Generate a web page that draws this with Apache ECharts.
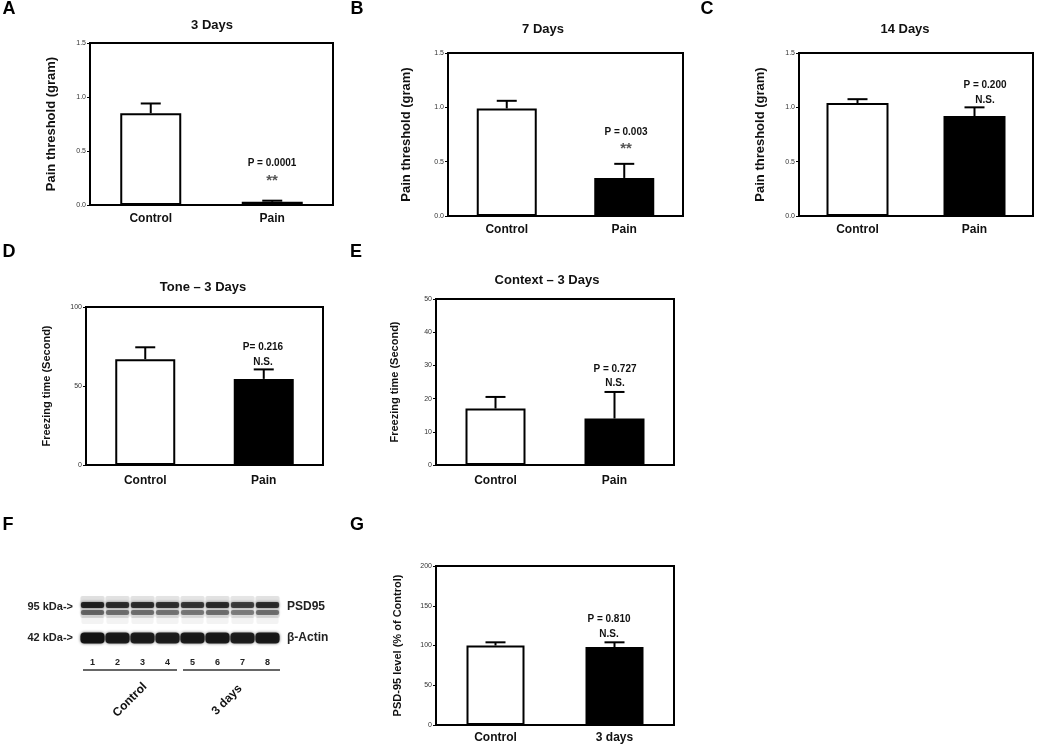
<!DOCTYPE html>
<html><head><meta charset="utf-8">
<script src="https://cdn.jsdelivr.net/npm/echarts@6/dist/echarts.min.js"></script>
<style>html,body{margin:0;padding:0;background:#fff}#c{width:1050px;height:748px}</style>
</head><body><div id="c"></div>
<script>
// ---------- data ----------
const catsPain = ['Control', 'Pain'];
const catsPsd = ['Control', '3 days'];
const thr3Mean = [0.85, 0.03];
const thr3Err = [0.09, 0.01];
const thr7Mean = [0.99, 0.35];
const thr7Err = [0.07, 0.13];
const thr14Mean = [1.04, 0.92];
const thr14Err = [0.035, 0.08];
const toneMean = [67, 54.5];
const toneErr = [7.5, 6];
const contextMean = [17, 14];
const contextErr = [3.5, 8];
const psdMean = [100, 98];
const psdErr = [4, 6];
const pTexts = ['P = 0.0001', 'P = 0.003', 'P = 0.200', 'P= 0.216', 'P = 0.727', 'P = 0.810'];
const sigTexts = ['**', '**', 'N.S.', 'N.S.', 'N.S.', 'N.S.'];
const blotLanes = ['1', '2', '3', '4', '5', '6', '7', '8'];
const blotBands = ['42 kDa->', '95 kDa->'];
const blotNames = ['\u03b2-Actin', 'PSD95'];
const psd95Intensity = [0.95, 0.88, 0.88, 0.84, 0.82, 0.88, 0.78, 0.88];
const actinIntensity = [1.0, 0.94, 0.93, 0.92, 0.94, 0.95, 0.92, 0.95];

const FONT = 'Arial, "Liberation Sans", sans-serif';

const panels = [
  {cats: catsPain, mean: thr3Mean, err: thr3Err, min: 0, max: 1.5, interval: 0.5, dec: 1,
   grid: {left: 90, top: 43, width: 243, height: 162}, yname: 'Pain threshold (gram)', ynameSize: 13, ygap: 32, bw: 61, xmargin: 8},
  {cats: catsPain, mean: thr7Mean, err: thr7Err, min: 0, max: 1.5, interval: 0.5, dec: 1,
   grid: {left: 448, top: 53, width: 235, height: 163}, yname: 'Pain threshold (gram)', ynameSize: 13, ygap: 35, bw: 60, xmargin: 8},
  {cats: catsPain, mean: thr14Mean, err: thr14Err, min: 0, max: 1.5, interval: 0.5, dec: 1,
   grid: {left: 799, top: 53, width: 234, height: 163}, yname: 'Pain threshold (gram)', ynameSize: 13, ygap: 32, bw: 62, xmargin: 8},
  {cats: catsPain, mean: toneMean, err: toneErr, min: 0, max: 100, interval: 50, dec: 0,
   grid: {left: 86, top: 307, width: 237, height: 158}, yname: 'Freezing time (Second)', ynameSize: 11, ygap: 34, bw: 60, xmargin: 10},
  {cats: catsPain, mean: contextMean, err: contextErr, min: 0, max: 50, interval: 10, dec: 0,
   grid: {left: 436, top: 299, width: 238, height: 166}, yname: 'Freezing time (Second)', ynameSize: 11, ygap: 36, bw: 60, xmargin: 10},
  {cats: catsPsd, mean: psdMean, err: psdErr, min: 0, max: 200, interval: 50, dec: 0,
   grid: {left: 436, top: 566, width: 238, height: 159}, yname: 'PSD-95 level (% of Control)', ynameSize: 11, ygap: 33, bw: 58, xmargin: 7}
];

const grids = [], xAxes = [], yAxes = [], series = [];

panels.forEach((p, gi) => {
  grids.push(Object.assign({show: true, borderColor: '#000', borderWidth: 2, backgroundColor: 'transparent'}, p.grid));
  xAxes.push({type: 'category', gridIndex: gi, data: p.cats,
    axisLine: {lineStyle: {color: '#000', width: 2}}, axisTick: {show: false},
    axisLabel: {fontFamily: FONT, fontWeight: 'bold', fontSize: 12, color: '#111', margin: p.xmargin}});
  yAxes.push({type: 'value', gridIndex: gi, min: p.min, max: p.max, interval: p.interval,
    splitLine: {show: false},
    axisLine: {show: true, lineStyle: {color: '#000', width: 2}},
    axisTick: {show: true, length: 3, lineStyle: {color: '#000', width: 1}},
    axisLabel: {fontFamily: FONT, fontSize: 7, color: '#333', margin: 4,
      formatter: v => v.toFixed(p.dec)},
    name: p.yname, nameLocation: 'middle', nameGap: p.ygap, nameRotate: 90,
    nameTextStyle: {fontFamily: FONT, fontWeight: 'bold', fontSize: p.ynameSize, color: '#111'}});
  series.push({type: 'bar', xAxisIndex: gi, yAxisIndex: gi, barWidth: p.bw, z: 3,
    itemStyle: {borderColor: '#000', borderWidth: 2},
    data: p.mean.map((m, i) => ({value: m, itemStyle: {color: i === 0 ? '#fff' : '#000'}}))});
  series.push({type: 'custom', xAxisIndex: gi, yAxisIndex: gi, z: 2,
    data: p.mean.map((m, i) => [i, m, p.err[i]]),
    encode: {x: 0, y: 1},
    renderItem: function (params, api) {
      const i = api.value(0), m = api.value(1), e = api.value(2);
      const b = api.coord([i, m]);
      const t = api.coord([i, m + e]);
      return {type: 'group', children: [
        {type: 'line', shape: {x1: b[0], y1: b[1], x2: t[0], y2: t[1]}, style: {stroke: '#000', lineWidth: 2}},
        {type: 'line', shape: {x1: t[0] - 10, y1: t[1], x2: t[0] + 10, y2: t[1]}, style: {stroke: '#000', lineWidth: 2}}
      ]};
    }});
});

// ---------- western blot (panel F) ----------
const bgi = grids.length;
grids.push({show: false, left: 80, top: 591.5, width: 200, height: 62});
xAxes.push({type: 'category', gridIndex: bgi, data: blotLanes,
  axisLine: {show: false}, axisTick: {show: false},
  axisLabel: {fontFamily: FONT, fontWeight: 'bold', fontSize: 9, color: '#222', margin: 5}});
yAxes.push({type: 'category', gridIndex: bgi, data: blotBands, position: 'left',
  axisLine: {show: false}, axisTick: {show: false},
  axisLabel: {fontFamily: FONT, fontWeight: 'bold', fontSize: 11, color: '#222', margin: 7}});
yAxes.push({type: 'category', gridIndex: bgi, data: blotNames, position: 'right',
  axisLine: {show: false}, axisTick: {show: false},
  axisLabel: {fontFamily: FONT, fontWeight: 'bold', fontSize: 12, color: '#222', margin: 7}});
const blotData = [];
blotLanes.forEach((l, i) => {
  blotData.push([i, 1, psd95Intensity[i]]);
  blotData.push([i, 0, actinIntensity[i]]);
});
series.push({type: 'custom', xAxisIndex: bgi, yAxisIndex: yAxes.length - 2, data: blotData,
  encode: {x: 0, y: 1},
  renderItem: function (params, api) {
    const lane = api.value(0), band = api.value(1), v = api.value(2);
    const c = api.coord([lane, band]);
    const s = api.size([1, 1]);
    const w = s[0] - 0.8;
    const x0 = c[0] - w / 2;
    const g = k => 'rgba(15,15,15,' + k + ')';
    if (band === 1) {
      return {type: 'group', children: [
        {type: 'rect', shape: {x: x0, y: c[1] - 11, width: w, height: 22, r: 2}, style: {fill: g(0.13 * v), shadowBlur: 4, shadowColor: g(0.12)}},
        {type: 'rect', shape: {x: x0 + 0.5, y: c[1] - 5, width: w - 1, height: 6, r: 2}, style: {fill: g(0.9 * v), shadowBlur: 3, shadowColor: g(0.7 * v)}},
        {type: 'rect', shape: {x: x0 + 0.5, y: c[1] + 3, width: w - 1, height: 5, r: 2}, style: {fill: g(0.55 * v), shadowBlur: 3, shadowColor: g(0.4 * v)}},
        {type: 'rect', shape: {x: x0 + 1, y: c[1] + 9, width: w - 2, height: 8, r: 2}, style: {fill: g(0.05), shadowBlur: 4, shadowColor: g(0.05)}}
      ]};
    }
    return {type: 'group', children: [
      {type: 'rect', shape: {x: x0, y: c[1] - 5.5, width: w, height: 11, r: 4}, style: {fill: g(0.97 * v), shadowBlur: 3, shadowColor: g(0.7 * v)}}
    ]};
  }});

// ---------- text annotations ----------
const txt = (text, x, y, size, opts) => Object.assign({type: 'text', x: x, y: y, z: 10,
  style: Object.assign({text: text, align: 'center', verticalAlign: 'middle',
    font: 'bold ' + size + 'px ' + FONT, fill: '#111'}, opts || {})});

const pPos = [[272, 163], [626, 132], [985, 85], [263, 347], [615, 369], [609, 619]];
const sPos = [[272, 181], [626, 149], [985, 100], [263, 362], [615, 383], [609, 634]];
const graphics = [];
pTexts.forEach((t, i) => {
  graphics.push(txt(t, pPos[i][0], pPos[i][1], 10));
  const isStar = sigTexts[i] === '**';
  graphics.push(txt(sigTexts[i], sPos[i][0], sPos[i][1], isStar ? 15 : 10, isStar ? {fill: '#555'} : {}));
});
// panel titles
[['3 Days', 212, 25], ['7 Days', 543, 29], ['14 Days', 905, 29], ['Tone \u2013 3 Days', 203, 287], ['Context \u2013 3 Days', 547, 280]]
  .forEach(t => graphics.push(txt(t[0], t[1], t[2], 13)));
// panel letters
[['A', 9, 9], ['B', 357, 9], ['C', 707, 9], ['D', 9, 252], ['E', 356, 252], ['F', 8, 525], ['G', 357, 525]]
  .forEach(t => graphics.push(txt(t[0], t[1], t[2], 18, {fill: '#000'})));
// blot group underlines and rotated labels
graphics.push({type: 'line', shape: {x1: 83, y1: 670, x2: 177, y2: 670}, style: {stroke: '#333', lineWidth: 1.5}});
graphics.push({type: 'line', shape: {x1: 183, y1: 670, x2: 280, y2: 670}, style: {stroke: '#333', lineWidth: 1.5}});
graphics.push({type: 'text', x: 130, y: 700, rotation: Math.PI / 4,
  style: {text: 'Control', align: 'center', verticalAlign: 'middle', font: 'bold 12px ' + FONT, fill: '#111'}});
graphics.push({type: 'text', x: 227, y: 700, rotation: Math.PI / 4,
  style: {text: '3 days', align: 'center', verticalAlign: 'middle', font: 'bold 12px ' + FONT, fill: '#111'}});

const chart = echarts.init(document.getElementById('c'), null, {renderer: 'canvas'});
chart.setOption({
  animation: false,
  backgroundColor: '#fff',
  grid: grids, xAxis: xAxes, yAxis: yAxes, series: series,
  graphic: graphics
});
</script></body></html>
